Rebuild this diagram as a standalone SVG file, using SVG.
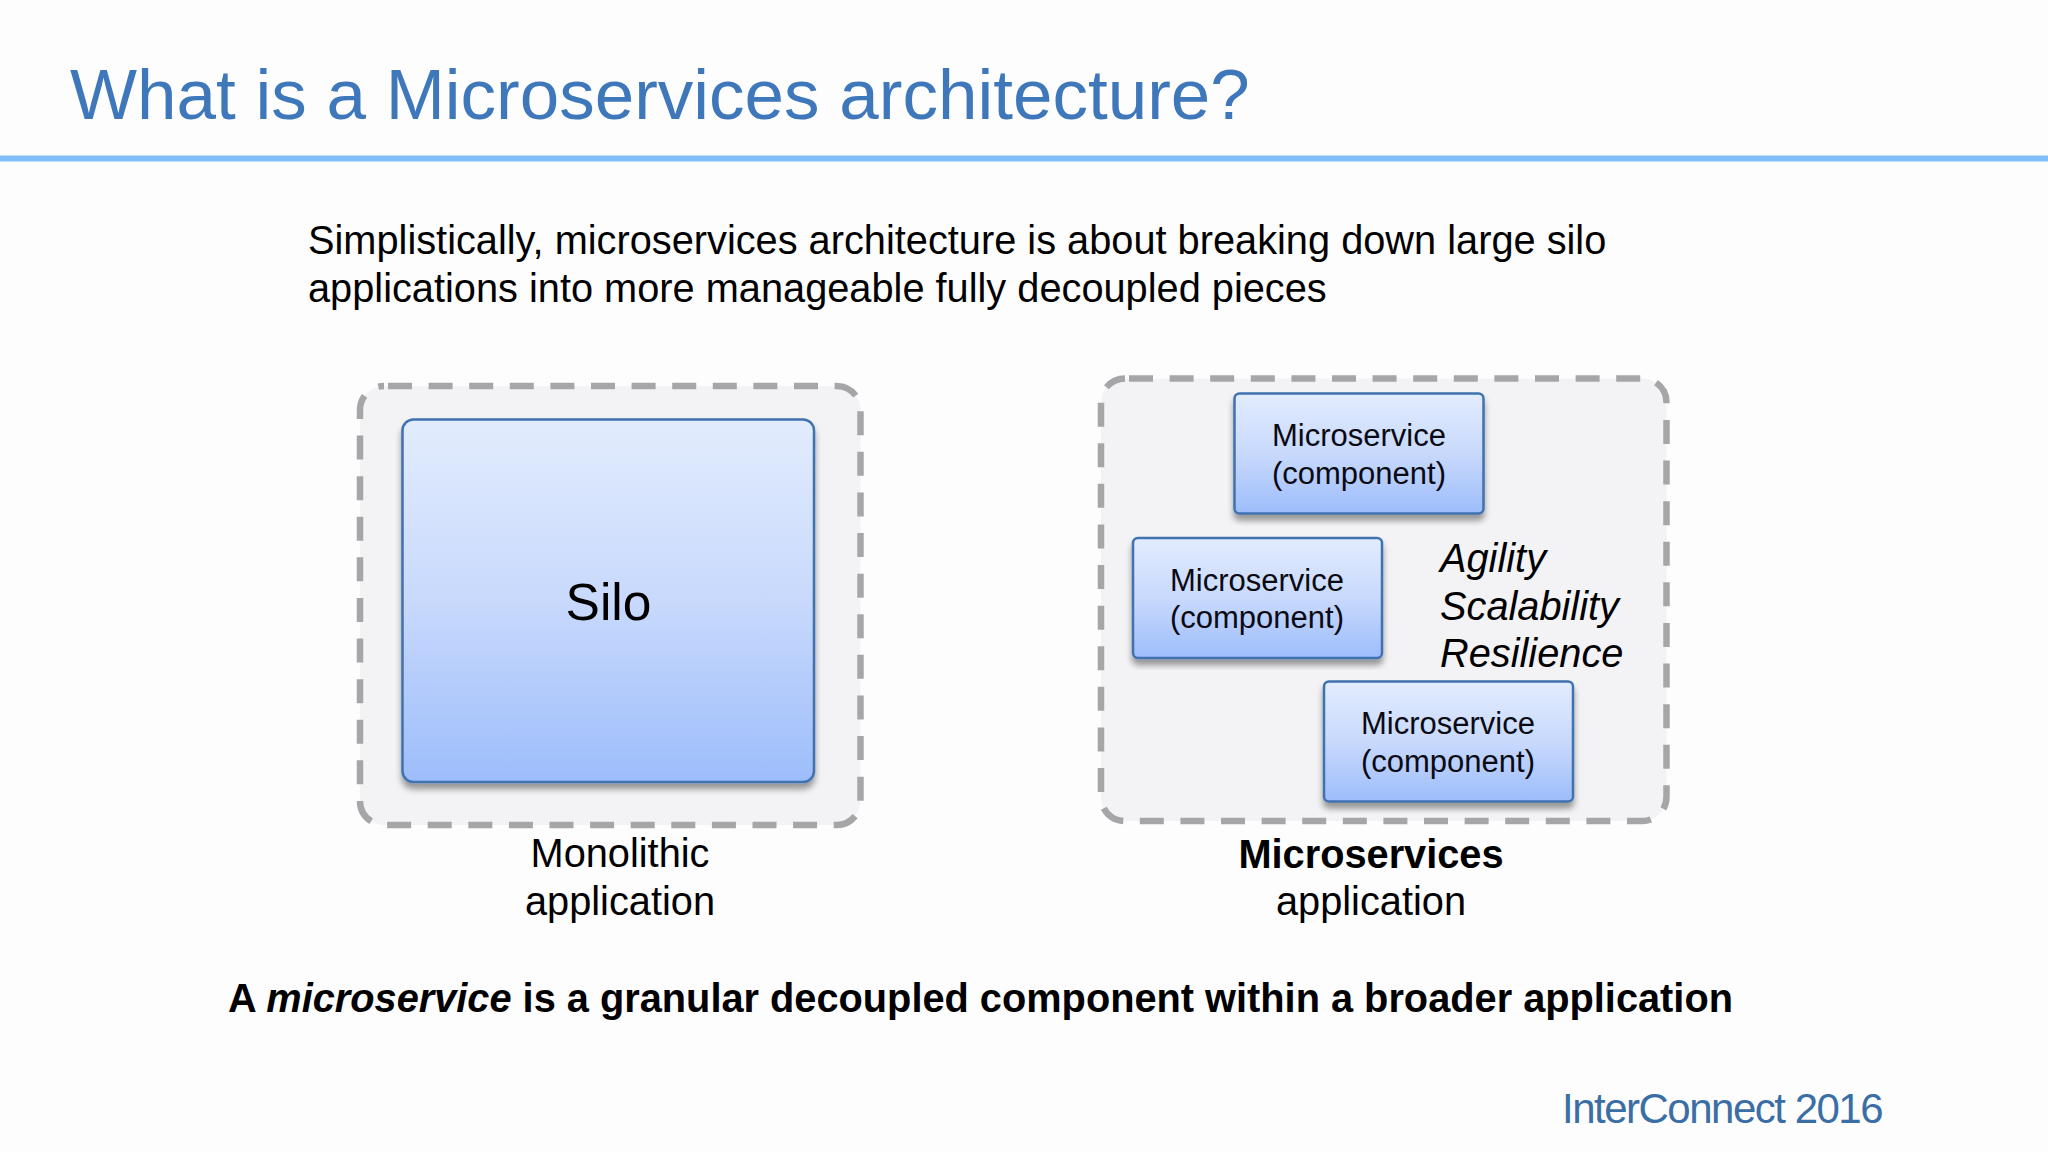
<svg xmlns="http://www.w3.org/2000/svg" width="2048" height="1152" viewBox="0 0 2048 1152">
<style>
text{font-family:"Liberation Sans",Arial,sans-serif;fill:#000}
.lg{fill:#f3f2f4;stroke:#a6a6a8;stroke-width:6.500;stroke-dasharray:24 16.6}
.box{fill:url(#g);stroke:#3f72b0;stroke-width:2.5;filter:url(#s)}
.ms{font-size:31px;text-anchor:middle;fill:#0a0a14}
.body{font-size:39.75px}
.cap{font-size:39.75px;text-anchor:middle}
.it{font-size:39.75px;font-style:italic}
</style>
<defs>
<linearGradient id="g" x1="0" y1="0" x2="0" y2="1"><stop offset="0" stop-color="#e2ecfd"/><stop offset=".5" stop-color="#c8d9fc"/><stop offset="1" stop-color="#9dbdfb"/></linearGradient>
<filter id="s" x="-10%" y="-10%" width="120%" height="120%"><feDropShadow dx="0" dy="6" stdDeviation="3" flood-color="#000" flood-opacity=".38"/></filter>
</defs>
<rect width="2048" height="1152" fill="#fdfdfe"/>
<g id="header">
<text x="70" y="119" font-size="71" style="fill:#3f77bb">What is a Microservices architecture?</text>
<rect x="0" y="155.500" width="2048" height="6" fill="#80c0fa"/>
</g>
<text class="body" x="308" y="254">Simplistically, microservices architecture is about breaking down large silo</text>
<text class="body" x="308" y="302">applications into more manageable fully decoupled pieces</text>
<g id="monolithic">
<rect class="lg" x="360" y="386" width="500.500" height="439" rx="24" stroke-dashoffset="-4"/>
<g id="silo"><rect class="box" x="402.500" y="419.500" width="411.500" height="362.500" rx="11"/>
<text x="608.500" y="620" font-size="51.500" text-anchor="middle">Silo</text></g>
<text class="cap" x="620" y="867">Monolithic</text>
<text class="cap" x="620" y="915">application</text>
</g>
<g id="microservices">
<rect class="lg" x="1101" y="378.500" width="565.500" height="442.500" rx="24" stroke-dashoffset="-4"/>
<g id="ms1"><rect class="box" x="1234.500" y="393.500" width="249" height="120" rx="5"/>
<text class="ms" x="1359" y="446">Microservice</text><text class="ms" x="1359" y="484">(component)</text></g>
<g id="ms2"><rect class="box" x="1133" y="538" width="249" height="120" rx="5"/>
<text class="ms" x="1257" y="591">Microservice</text><text class="ms" x="1257" y="628">(component)</text></g>
<g id="ms3"><rect class="box" x="1324" y="681.500" width="249" height="120" rx="5"/>
<text class="ms" x="1448" y="734">Microservice</text><text class="ms" x="1448" y="772">(component)</text></g>
<text class="it" x="1440" y="572">Agility</text>
<text class="it" x="1440" y="619.500">Scalability</text>
<text class="it" x="1440" y="666.500">Resilience</text>
<text class="cap" x="1371" y="868" font-weight="700">Microservices</text>
<text class="cap" x="1371" y="915">application</text>
</g>
<text x="228" y="1012" font-size="39.750" font-weight="700">A <tspan font-style="italic">microservice</tspan> is a granular decoupled component within a broader application</text>
<text x="1562" y="1123" font-size="42" letter-spacing="-1.5" style="fill:#3a6ea5">InterConnect 2016</text>
</svg>
